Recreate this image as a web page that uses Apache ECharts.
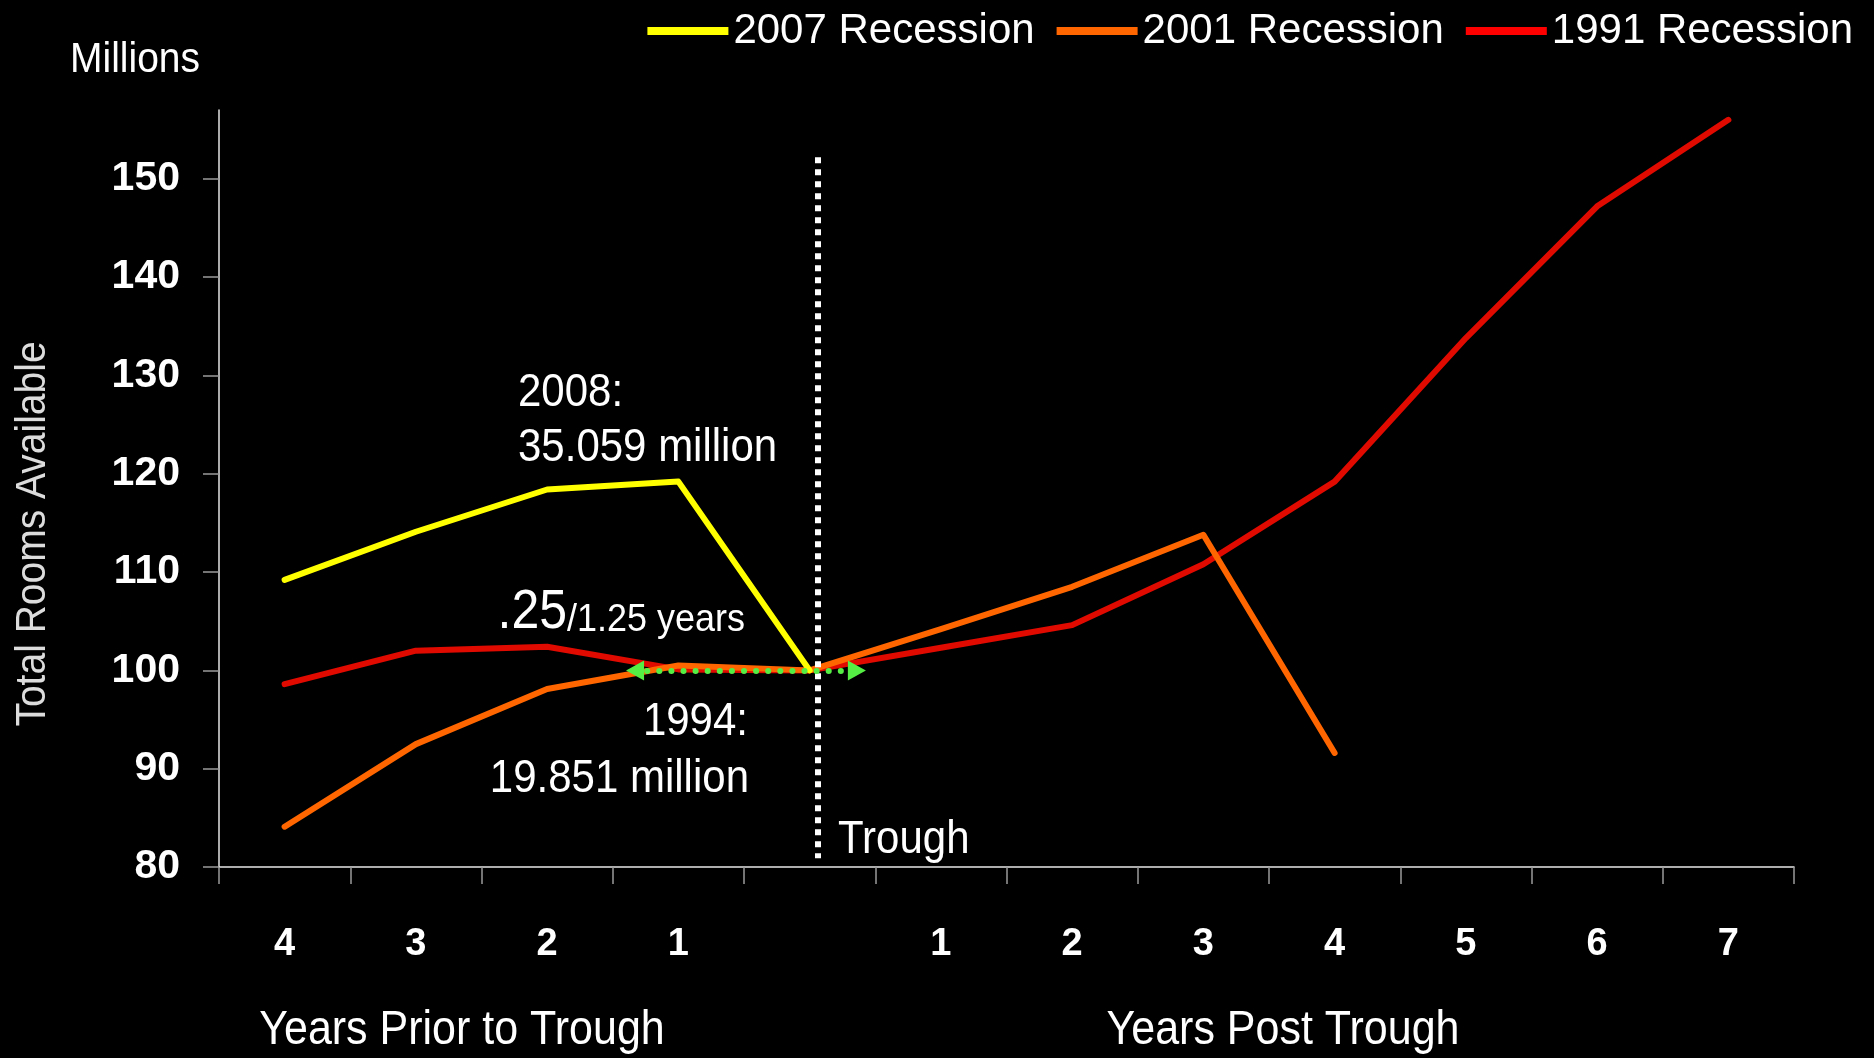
<!DOCTYPE html>
<html>
<head>
<meta charset="utf-8">
<script src="https://cdn.jsdelivr.net/npm/echarts@6/dist/echarts.min.js"></script>
<style>
  html, body { margin: 0; padding: 0; background: #000; }
  #chart { width: 1874px; height: 1058px; }
</style>
</head>
<body>
<div id="chart"></div>
<script>
// Years relative to each recession's trough (blank slot = the trough itself)
const categories = ['4', '3', '2', '1', '', '1', '2', '3', '4', '5', '6', '7'];
const yTicks = [80, 90, 100, 110, 120, 130, 140, 150];

// Total rooms available, indexed to 100 at the trough (millions)
const rec2007 = [109.2, 114.1, 118.4, 119.2, 100.0, null, null, null, null, null, null, null];
const rec2001 = [84.1, 92.5, 98.1, 100.5, 100.0, 104.2, 108.5, 113.8, 91.6, null, null, null];
const rec1991 = [98.6, 102.0, 102.4, 100.1, 100.0, 102.3, 104.6, 110.8, 119.2, 133.8, 147.2, 156.0];

const seriesNames = ['2007 Recession', '2001 Recession', '1991 Recession'];
const lineColors = ['#ffff00', '#ff6600', '#e00a00'];
const legendColors = ['#ffff00', '#ff6600', '#ff0000'];

// Trough marker and recovery-gap arrow, placed on a hidden 0..12 value axis
const troughX = 4.56;
const troughSpan = [80.9, 152.2];
const gapArrow = [3.17, 4.86];
const gapLevel = 100;

const FONT = '"Liberation Sans", Arial, sans-serif';

const chart = echarts.init(document.getElementById('chart'), null, { renderer: 'canvas' });

// Annotation text, stretched slightly taller to give a condensed look
function label(text, x, y, size, align) {
  return {
    type: 'text',
    x: x, y: y,
    scaleY: 1.1,
    style: {
      text: text,
      fill: '#ffffff',
      font: size + 'px ' + FONT,
      align: align || 'left',
      verticalAlign: 'middle'
    }
  };
}

const lineSeries = [rec2007, rec2001, rec1991].map(function (data, i) {
  return {
    name: seriesNames[i],
    type: 'line',
    data: data,
    xAxisIndex: 0,
    yAxisIndex: 0,
    symbol: 'none',
    connectNulls: false,
    lineStyle: { color: lineColors[i], width: 6, cap: 'round', join: 'round' },
    itemStyle: { color: lineColors[i] },
    z: 3 - i
  };
});

const option = {
  backgroundColor: '#000000',
  animation: false,
  grid: { left: 219, right: 80, top: 110, bottom: 191, containLabel: false },
  legend: {
    right: 16,
    top: 5,
    icon: 'rect',
    itemWidth: 81,
    itemHeight: 8,
    itemGap: 22,
    textStyle: { color: '#ffffff', fontSize: 42, fontFamily: FONT },
    data: seriesNames.map(function (n, i) {
      return { name: n, itemStyle: { color: legendColors[i] } };
    })
  },
  xAxis: [
    {
      type: 'category',
      data: categories,
      boundaryGap: true,
      axisLine: { lineStyle: { color: '#e6e6e6', width: 1.5 } },
      axisTick: { show: true, length: 17, interval: 0, lineStyle: { color: '#9a9a9a', width: 1.5 } },
      axisLabel: { color: '#ffffff', fontSize: 38, fontWeight: 'bold', fontFamily: FONT, margin: 59, interval: 0 },
      splitLine: { show: false }
    },
    {
      type: 'value',
      min: 0,
      max: 12,
      show: false
    }
  ],
  yAxis: {
    type: 'value',
    min: 80,
    max: 157,
    interval: 10,
    axisLine: { show: true, lineStyle: { color: '#e6e6e6', width: 1.5 } },
    axisTick: { show: true, length: 16, customValues: yTicks, lineStyle: { color: '#9a9a9a', width: 1.5 } },
    axisLabel: {
      customValues: yTicks,
      color: '#ffffff',
      fontSize: 41,
      fontWeight: 'bold',
      fontFamily: FONT,
      margin: 39
    },
    splitLine: { show: false }
  },
  series: lineSeries.concat([
    {
      name: 'annotations',
      type: 'line',
      xAxisIndex: 1,
      yAxisIndex: 0,
      data: [],
      silent: true,
      z: 10,
      markLine: {
        silent: true,
        animation: false,
        label: { show: false },
        data: [
          [
            { coord: [troughX, troughSpan[1]], symbol: 'none' },
            { coord: [troughX, troughSpan[0]], symbol: 'none',
              lineStyle: { color: '#ffffff', width: 6, type: [6, 6], cap: 'butt' } }
          ],
          [
            { coord: [gapArrow[0], gapLevel], symbol: 'triangle', symbolSize: [20, 18] },
            { coord: [gapArrow[1], gapLevel], symbol: 'triangle', symbolSize: [20, 18],
              lineStyle: { color: '#55ee44', width: 6, type: [0.1, 12], cap: 'round' },
              itemStyle: { color: '#55ee44' } }
          ]
        ]
      }
    }
  ]),
  graphic: [
    label('Millions', 70, 60, 39),
    {
      type: 'text',
      x: 33, y: 534,
      rotation: Math.PI / 2,
      scaleY: 1.1,
      style: {
        text: 'Total Rooms Available',
        fill: '#dcdcdc',
        font: '39px ' + FONT,
        align: 'center',
        verticalAlign: 'middle'
      }
    },
    label('2008:', 518, 393, 42),
    label('35.059 million', 518, 448, 42),
    label('.25', 567, 613, 50, 'right'),
    label('/1.25 years', 567, 620, 36),
    label('1994:', 748, 722, 42, 'right'),
    label('19.851 million', 749, 779, 42, 'right'),
    label('Trough', 838, 840, 42),
    label('Years Prior to Trough', 462, 1031, 43, 'center'),
    label('Years Post Trough', 1283, 1031, 43, 'center')
  ]
};

chart.setOption(option);
</script>
</body>
</html>
